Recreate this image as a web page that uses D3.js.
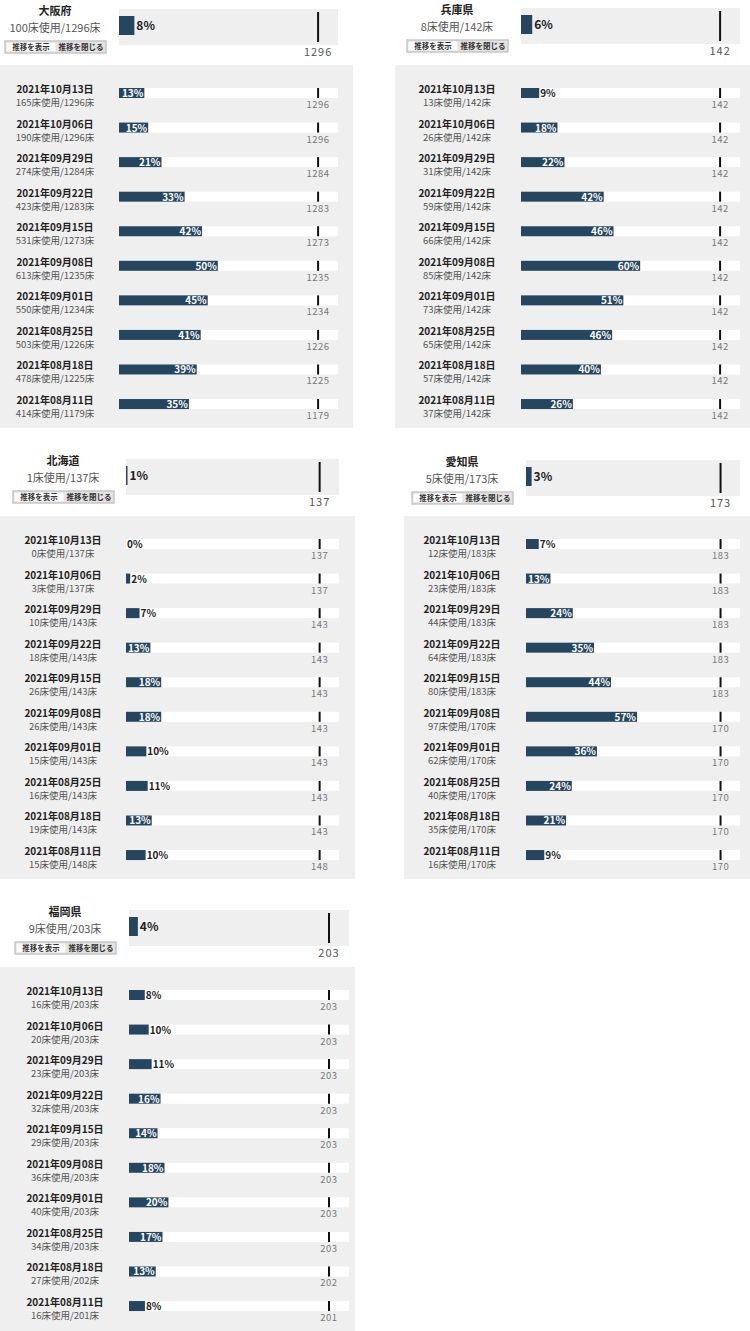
<!DOCTYPE html>
<html>
<head>
<meta charset="utf-8">
<script src="https://cdn.jsdelivr.net/npm/d3@7/dist/d3.min.js"></script>
<style>
  html, body { margin: 0; padding: 0; background: #fff; }
  svg { display: block; }
  text { font-family: "Noto Sans CJK JP", "Noto Sans", sans-serif; }
</style>
</head>
<body>
<svg id="chart" width="750" height="1331"></svg>
<script>
// ---------- data ----------
const prefectures = ["大阪府", "兵庫県", "北海道", "愛知県", "福岡県"];
const currentUsed = [100, 8, 1, 5, 9];
const currentBeds = [1296, 142, 137, 173, 203];
const dates = ["2021年10月13日", "2021年10月06日", "2021年09月29日", "2021年09月22日", "2021年09月15日",
               "2021年09月08日", "2021年09月01日", "2021年08月25日", "2021年08月18日", "2021年08月11日"];
const osakaUsed = [165, 190, 274, 423, 531, 613, 550, 503, 478, 414];
const osakaBeds = [1296, 1296, 1284, 1283, 1273, 1235, 1234, 1226, 1225, 1179];
const hyogoUsed = [13, 26, 31, 59, 66, 85, 73, 65, 57, 37];
const hyogoBeds = [142, 142, 142, 142, 142, 142, 142, 142, 142, 142];
const hokkaidoUsed = [0, 3, 10, 18, 26, 26, 15, 16, 19, 15];
const hokkaidoBeds = [137, 137, 143, 143, 143, 143, 143, 143, 143, 148];
const aichiUsed = [12, 23, 44, 64, 80, 97, 62, 40, 35, 16];
const aichiBeds = [183, 183, 183, 183, 183, 170, 170, 170, 170, 170];
const fukuokaUsed = [16, 20, 23, 32, 29, 36, 40, 34, 27, 16];
const fukuokaBeds = [203, 203, 203, 203, 203, 203, 203, 203, 202, 201];
const historyUsed = [osakaUsed, hyogoUsed, hokkaidoUsed, aichiUsed, fukuokaUsed];
const historyBeds = [osakaBeds, hyogoBeds, hokkaidoBeds, aichiBeds, fukuokaBeds];
const buttonLabels = ["推移を表示", "推移を閉じる"];

// ---------- layout (positions only) ----------
const layout = [
  { x: 0,   w: 353, top: 9,   hist: 65,  cx: 55,  barX: 119, barW: 219 },
  { x: 395, w: 355, top: 8,   hist: 65,  cx: 457, barX: 521, barW: 219 },
  { x: 0,   w: 355, top: 459, hist: 516, cx: 63,  barX: 126, barW: 213 },
  { x: 404, w: 346, top: 460, hist: 516, cx: 462, barX: 526, barW: 214 },
  { x: 0,   w: 355, top: 910, hist: 967, cx: 65,  barX: 129, barW: 220 }
];
const BAR = "#26455f";
const BG = "#efefef";
const rowStep = 34.56;

const svg = d3.select("#chart");

prefectures.forEach((name, p) => {
  const L = layout[p];
  const g = svg.append("g");
  const pct = (u, b) => Math.round(u / b * 100);

  // ----- header -----
  g.append("text").attr("x", L.cx).attr("y", L.top + 6)
    .attr("text-anchor", "middle").attr("font-size", 11).attr("font-weight", "bold")
    .attr("fill", "#222").text(name);
  g.append("text").attr("x", L.cx).attr("y", L.top + 23)
    .attr("text-anchor", "middle").attr("font-size", 11)
    .attr("fill", "#555").text(`${currentUsed[p]}床使用/${currentBeds[p]}床`);

  // buttons
  const bx = L.cx - 50, by = L.top + 32;
  g.append("rect").attr("x", bx).attr("y", by).attr("width", 101).attr("height", 12)
    .attr("fill", "#dcdcdc").attr("stroke", "#c8c8c8").attr("stroke-width", 1.5);
  g.append("rect").attr("x", bx + 1.5).attr("y", by + 1.5).attr("width", 49).attr("height", 9)
    .attr("fill", "#ffffff");
  g.append("rect").attr("x", bx + 51).attr("y", by + 1).attr("width", 49).attr("height", 10)
    .attr("fill", "#e4e2e2");
  buttonLabels.forEach((t, i) => {
    g.append("text").attr("x", bx + 26 + i * 50).attr("y", by + 9)
      .attr("text-anchor", "middle").attr("font-size", 7.5).attr("font-weight", "bold")
      .attr("fill", "#333").text(t);
  });

  // header bar
  const hx = d3.scaleLinear().domain([0, currentBeds[p] * 1.1]).range([L.barX, L.barX + L.barW]);
  g.append("rect").attr("x", hx(0)).attr("y", L.top).attr("width", L.barW).attr("height", 36)
    .attr("fill", BG);
  g.append("rect").attr("x", hx(0)).attr("y", L.top + 7)
    .attr("width", Math.max(1.5, hx(currentUsed[p]) - hx(0))).attr("height", 19).attr("fill", BAR);
  g.append("line").attr("x1", hx(currentBeds[p])).attr("x2", hx(currentBeds[p]))
    .attr("y1", L.top + 3).attr("y2", L.top + 33).attr("stroke", "#111").attr("stroke-width", 2);
  g.append("text").attr("x", hx(currentBeds[p])).attr("y", L.top + 47)
    .attr("text-anchor", "middle").attr("font-size", 11).attr("letter-spacing", 1)
    .attr("fill", "#555").text(currentBeds[p]);
  g.append("text").attr("x", Math.max(hx(currentUsed[p]), hx(0) + 1.5) + 2).attr("y", L.top + 21)
    .attr("font-size", 12).attr("font-weight", "bold").attr("fill", "#222")
    .text(pct(currentUsed[p], currentBeds[p]) + "%");

  // ----- history -----
  g.append("rect").attr("x", L.x).attr("y", L.hist).attr("width", L.w)
    .attr("height", p === 4 ? 1331 - L.hist : 363).attr("fill", BG);

  const used = historyUsed[p], beds = historyBeds[p];
  dates.forEach((d, i) => {
    const y0 = L.hist + 23 + i * rowStep;
    const x = d3.scaleLinear().domain([0, beds[i] * 1.1]).range([L.barX, L.barX + L.barW]);
    const r = g.append("g");
    r.append("text").attr("x", L.cx).attr("y", y0 + 5)
      .attr("text-anchor", "middle").attr("font-size", 10).attr("font-weight", "bold")
      .attr("fill", "#222").text(d);
    r.append("text").attr("x", L.cx).attr("y", y0 + 18)
      .attr("text-anchor", "middle").attr("font-size", 9.5)
      .attr("fill", "#555").text(`${used[i]}床使用/${beds[i]}床`);
    r.append("rect").attr("x", x(0)).attr("y", y0).attr("width", L.barW).attr("height", 10)
      .attr("fill", "#fff");
    r.append("rect").attr("x", x(0)).attr("y", y0)
      .attr("width", x(used[i]) - x(0)).attr("height", 10).attr("fill", BAR);
    r.append("line").attr("x1", x(beds[i])).attr("x2", x(beds[i]))
      .attr("y1", y0).attr("y2", y0 + 10).attr("stroke", "#111").attr("stroke-width", 2);
    r.append("text").attr("x", x(beds[i])).attr("y", y0 + 20)
      .attr("text-anchor", "middle").attr("font-size", 9.5).attr("letter-spacing", 0.5)
      .attr("fill", "#777").text(beds[i]);
    const pc = pct(used[i], beds[i]);
    const inside = pc >= 12;
    r.append("text")
      .attr("x", inside ? x(used[i]) - 1 : x(used[i]) + 1)
      .attr("y", y0 + 9)
      .attr("text-anchor", inside ? "end" : "start")
      .attr("font-size", 10).attr("font-weight", "bold")
      .attr("fill", inside ? "#fff" : "#222")
      .text(pc + "%");
  });
});
</script>
</body>
</html>
